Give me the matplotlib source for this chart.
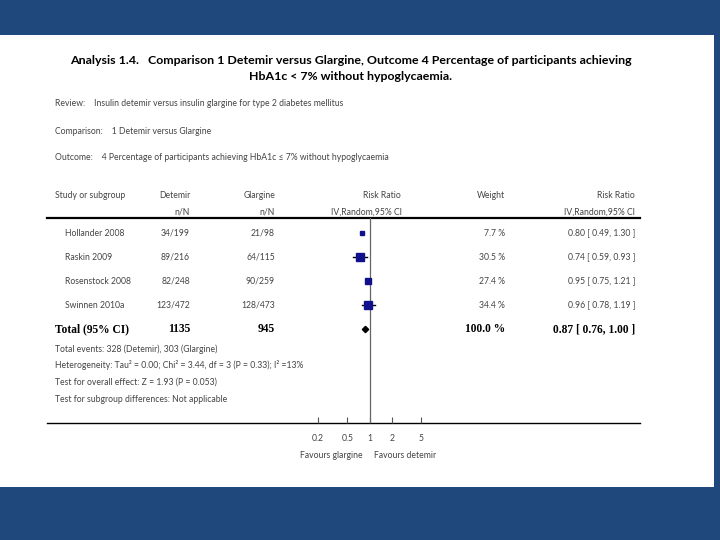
import numpy as np
import matplotlib
matplotlib.use("Agg")
import matplotlib.pyplot as plt

# data
studies = ["Hollander 2008", "Raskin 2009", "Rosenstock 2008", "Swinnen 2010a"]
detemir_nN = ["34/199", "89/216", "82/248", "123/472"]
glargine_nN = ["21/98", "64/115", "90/259", "128/473"]
weights = [7.7, 30.5, 27.4, 34.4]
rr = [0.80, 0.74, 0.95, 0.96]
ci_low = [0.49, 0.59, 0.75, 0.78]
ci_high = [1.30, 0.93, 1.21, 1.19]
whisker_visible = [False, True, False, True]
total_detemir = 1135
total_glargine = 945
total_rr = 0.87
total_low = 0.76
total_high = 1.00
ticks = [0.2, 0.5, 1, 2, 5]
tick_labels = ["0.2", "0.5", "1", "2", "5"]

BLUE = "#1f497d"
GREY = "#444444"
NAVY = "#10108c"
SANS = ["Lato", "DejaVu Sans"]
SERIF = ["Liberation Serif", "DejaVu Serif"]

fig = plt.figure(figsize=(7.2, 5.4), dpi=100)
fig.patch.set_facecolor(BLUE)

# overlay axes in pixel coordinates
ov = fig.add_axes([0, 0, 1, 1])
ov.set_xlim(0, 720)
ov.set_ylim(540, 0)
ov.axis("off")
ov.add_patch(plt.Rectangle((0, 35), 714, 452, facecolor="white", edgecolor="none", zorder=0))

def t(x, y, s, ha="left", size=6.2, weight="normal", family=SANS, color=GREY):
    ov.text(x, y, s, ha=ha, va="center", fontsize=size, fontweight=weight,
            family=family, color=color)

# title
t(351, 60, "Analysis 1.4.   Comparison 1 Detemir versus Glargine, Outcome 4 Percentage of participants achieving",
  ha="center", size=8.9, weight="bold", color="black")
t(351, 77, "HbA1c < 7% without hypoglycaemia.", ha="center", size=8.9, weight="bold", color="black")

t(55, 103, "Review:    Insulin detemir versus insulin glargine for type 2 diabetes mellitus")
t(55, 131, "Comparison:    1 Detemir versus Glargine")
t(55, 157, "Outcome:    4 Percentage of participants achieving HbA1c \u2264 7% without hypoglycaemia")

# header
t(55, 195, "Study or subgroup")
t(190, 195, "Detemir", ha="right")
t(190, 212, "n/N", ha="right")
t(275, 195, "Glargine", ha="right")
t(275, 212, "n/N", ha="right")
t(401, 195, "Risk Ratio", ha="right")
t(402, 212, "IV,Random,95% CI", ha="right")
t(505, 195, "Weight", ha="right")
t(635, 195, "Risk Ratio", ha="right")
t(635, 212, "IV,Random,95% CI", ha="right")
ov.plot([47, 640], [218, 218], color="black", lw=1.6)
ov.plot([47, 640], [423, 423], color="black", lw=1.0)

row_y = [233, 257, 281, 305]
for i, y in enumerate(row_y):
    t(65, y, studies[i])
    t(190, y, detemir_nN[i], ha="right")
    t(275, y, glargine_nN[i], ha="right")
    t(505, y, "%.1f %%" % weights[i], ha="right")
    t(635, y, "%.2f [ %.2f, %.2f ]" % (rr[i], ci_low[i], ci_high[i]), ha="right")

total_y = 329
bold = dict(size=8.3, weight="bold", family=SERIF, color="black")
t(55, total_y, "Total (95% CI)", **bold)
t(190, total_y, str(total_detemir), ha="right", **bold)
t(275, total_y, str(total_glargine), ha="right", **bold)
t(505, total_y, "100.0 %", ha="right", **bold)
t(635, total_y, "%.2f [ %.2f, %.2f ]" % (total_rr, total_low, total_high), ha="right", **bold)

t(55, 349, "Total events: 328 (Detemir), 303 (Glargine)")
t(55, 365, "Heterogeneity: Tau\u00b2 = 0.00; Chi\u00b2 = 3.44, df = 3 (P = 0.33); I\u00b2 =13%")
t(55, 382, "Test for overall effect: Z = 1.93 (P = 0.053)")
t(55, 399, "Test for subgroup differences: Not applicable")

# forest axes: log scale, 1 at x=369.5 px
x0, x1 = 290, 450
ppd = 73.5
lo = 10 ** ((x0 - 369.5) / ppd)
hi = 10 ** ((x1 - 369.5) / ppd)
ax = fig.add_axes([x0 / 720, (540 - 423) / 540, (x1 - x0) / 720, (423 - 218) / 540])
ax.patch.set_alpha(0)
ax.set_xscale("log")
ax.set_xlim(lo, hi)
ax.set_ylim(423, 218)
for s in ["top", "left", "right", "bottom"]:
    ax.spines[s].set_visible(False)
ax.set_yticks([])
ax.set_xticks(ticks)
ax.set_xticklabels(tick_labels, family=SANS, fontsize=6.2, color=GREY)
ax.minorticks_off()
ax.tick_params(axis="x", direction="in", length=4, width=0.8, color="#555555", pad=8)
ax.axvline(1, color="#666666", lw=0.9)

sizes = [3.0, 5.8, 5.0, 5.8]
for i, y in enumerate(row_y):
    if whisker_visible[i]:
        ax.plot([ci_low[i], ci_high[i]], [y, y], color="black", lw=1.0)
    ax.plot(rr[i], y, marker="s", ms=sizes[i], color=NAVY, mec=NAVY)
ax.plot(total_rr, total_y, marker="D", ms=3.2, color="black")

ax.text(0.3, 456, "Favours glargine", ha="center", va="center", fontsize=6.2, family=SANS, color=GREY,
        clip_on=False)
ax.text(3.0, 456, "Favours detemir", ha="center", va="center", fontsize=6.2, family=SANS, color=GREY,
        clip_on=False)

fig.savefig("out.png", dpi=100, facecolor=fig.get_facecolor())
